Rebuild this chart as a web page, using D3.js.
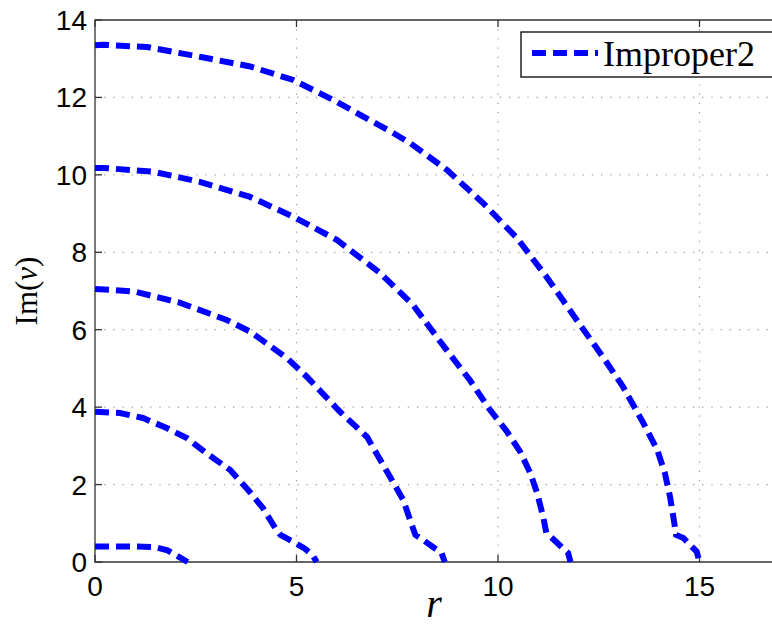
<!DOCTYPE html>
<html><head><meta charset="utf-8">
<script src="https://cdn.jsdelivr.net/npm/d3@7"></script>
<style>body{margin:0;background:#fff}svg{display:block}</style>
</head><body>
<svg id="c" width="772" height="627"></svg>
<script>
const seriesName = "Improper2";
const xTicks = [0, 5, 10, 15];
const yTicks = [0, 2, 4, 6, 8, 10, 12, 14];
const branch1 = [[0,0.4],[0.5,0.4],[1,0.4],[1.5,0.38],[1.8,0.3],[2.05,0.15],[2.3,0]];
const branch2 = [[0,3.88],[0.62,3.85],[1.19,3.72],[1.78,3.46],[2.28,3.2],[2.78,2.8],[3.35,2.38],[3.8,1.86],[4.17,1.39],[4.5,0.83],[4.6,0.7],[4.92,0.52],[5.2,0.35],[5.4,0.18],[5.5,0]];
const branch3 = [[0,7.05],[0.37,7.03],[1.0,6.98],[2.1,6.7],[3.27,6.25],[3.85,5.95],[4.76,5.27],[5.26,4.78],[6.08,3.88],[6.75,3.23],[7.32,2.2],[7.65,1.6],[7.82,1.08],[7.95,0.7],[8.14,0.57],[8.6,0.23],[8.68,0]];
const branch4 = [[0,10.18],[0.2,10.18],[1.45,10.08],[2.6,9.82],[3.85,9.43],[4.92,8.92],[6.0,8.32],[7.07,7.47],[7.9,6.63],[8.56,5.7],[9.3,4.7],[9.8,3.93],[10.2,3.4],[10.55,2.85],[10.8,2.3],[10.97,1.78],[11.12,1.17],[11.2,0.75],[11.34,0.62],[11.74,0.23],[11.8,0]];
const branch5 = [[0,13.35],[0.2,13.36],[1.3,13.3],[2.6,13.05],[3.85,12.8],[4.92,12.45],[5.9,11.94],[7.4,11.08],[7.82,10.82],[8.73,10.13],[9.63,9.27],[10.47,8.37],[11.2,7.37],[11.9,6.33],[12.6,5.3],[13.1,4.53],[13.6,3.6],[13.95,2.9],[14.14,2.3],[14.27,1.68],[14.35,1.17],[14.42,0.7],[14.6,0.62],[14.93,0.27],[15.0,0]];
const branches = [branch1, branch2, branch3, branch4, branch5];

const svg = d3.select("#c");
const L = 95, T = 20, B = 562;
const x = d3.scaleLinear().domain([0, 17]).range([L, L + 17 * 40.3]);
const y = d3.scaleLinear().domain([0, 14]).range([B, T]);
const right = 772;

// grid
const grid = svg.append("g").attr("stroke", "#999").attr("stroke-width", 1.2).attr("stroke-dasharray", "1.2,8");
xTicks.filter(t => t > 0).forEach(t => grid.append("line").attr("x1", x(t)).attr("x2", x(t)).attr("y1", T).attr("y2", B));
yTicks.filter(t => t > 0 && t < 14).forEach(t => grid.append("line").attr("x1", L).attr("x2", right).attr("y1", y(t)).attr("y2", y(t)));

// axes
const ax = svg.append("g").attr("stroke", "#333").attr("stroke-width", 1.3).attr("fill", "none");
ax.append("path").attr("d", `M${right},${T}H${L}V${B}H${right}`);
xTicks.forEach(t => {
  ax.append("line").attr("x1", x(t)).attr("x2", x(t)).attr("y1", B).attr("y2", B - 7);
  ax.append("line").attr("x1", x(t)).attr("x2", x(t)).attr("y1", T).attr("y2", T + 7);
});
yTicks.forEach(t => ax.append("line").attr("x1", L).attr("x2", L + 7).attr("y1", y(t)).attr("y2", y(t)));

const lab = svg.append("g").attr("font-family", "Liberation Sans, Arial, sans-serif").attr("font-size", 28).attr("fill", "#000");
xTicks.forEach(t => lab.append("text").attr("x", x(t)).attr("y", 596).attr("text-anchor", "middle").text(t));
yTicks.forEach(t => lab.append("text").attr("x", 87).attr("y", y(t) + 10).attr("text-anchor", "end").text(t));

// lines
const line = d3.line().x(d => x(d[0])).y(d => y(d[1]));
svg.append("g").selectAll("path").data(branches).join("path")
  .attr("d", line).attr("fill", "none").attr("stroke", "#0000ff")
  .attr("stroke-width", 6).attr("stroke-dasharray", "14,7");

// legend
const lg = svg.append("g");
lg.append("rect").attr("x", 521).attr("y", 32).attr("width", 280).attr("height", 45)
  .attr("fill", "#fff").attr("stroke", "#000").attr("stroke-width", 1.3);
lg.append("line").attr("x1", 532).attr("x2", 598).attr("y1", 53).attr("y2", 53)
  .attr("stroke", "#0000ff").attr("stroke-width", 6).attr("stroke-dasharray", "14,7");
lg.append("text").attr("x", 603).attr("y", 66).attr("font-family", "Liberation Serif, Times New Roman, serif")
  .attr("font-size", 36).text(seriesName);

// axis titles
svg.append("text").attr("x", 434).attr("y", 617).attr("text-anchor", "middle")
  .attr("font-family", "Liberation Serif, serif").attr("font-style", "italic").attr("font-size", 40).text("r");
const yl = svg.append("text").attr("transform", "translate(37,291) rotate(-90)").attr("text-anchor", "middle")
  .attr("font-family", "Liberation Serif, serif").attr("font-size", 31);
yl.append("tspan").text("Im(");
yl.append("tspan").attr("font-style", "italic").text("v");
yl.append("tspan").text(")");
</script>
</body></html>
